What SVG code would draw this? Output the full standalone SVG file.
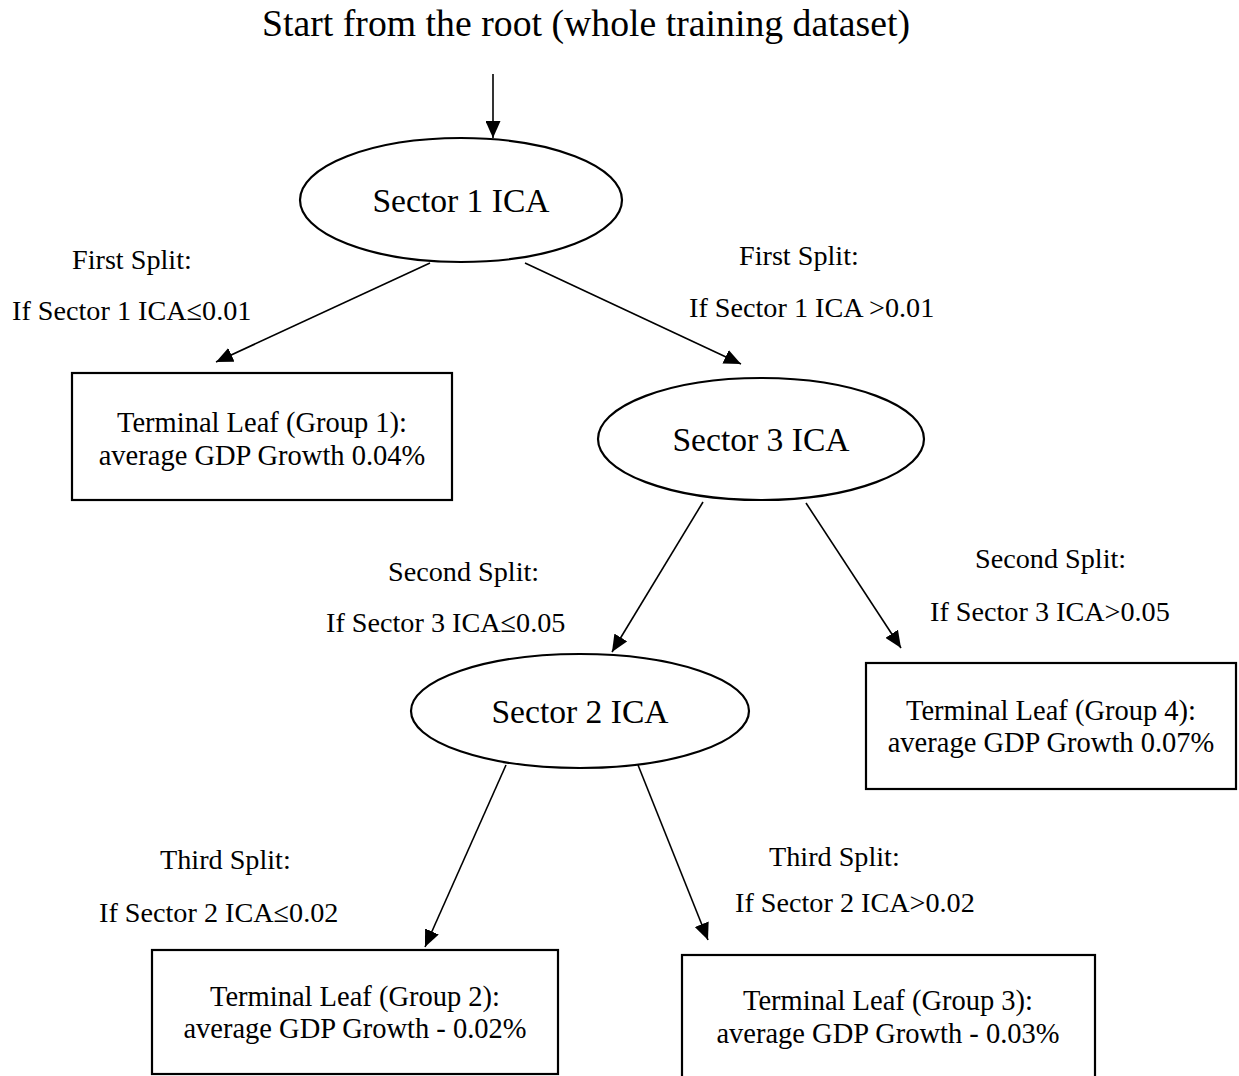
<svg xmlns="http://www.w3.org/2000/svg" width="1239" height="1076" viewBox="0 0 1239 1076">
<style>
text{font-family:"Liberation Serif","Times New Roman",serif;fill:#000}
.title{font-size:37.7px}
.node{font-size:33.6px;text-anchor:middle}
.leaf{font-size:28.5px;text-anchor:middle}
.lbl{font-size:28.2px}
.shape{fill:#fff;stroke:#000;stroke-width:2.2}
.edge{stroke:#000;stroke-width:1.6;fill:none;marker-end:url(#ah)}
</style>
<defs>
<marker id="ah" markerUnits="userSpaceOnUse" markerWidth="18" markerHeight="15" refX="17" refY="7.5" orient="auto">
<path d="M0,0 L17,7.5 L0,15 z" fill="#000"/>
</marker>
</defs>
<rect width="1239" height="1076" fill="#fff"/>
<text class="title" x="262" y="36" textLength="648">Start from the root (whole training dataset)</text>
<g id="connectors">
<line class="edge" x1="493" y1="74" x2="493" y2="138"/>
<line class="edge" x1="430" y1="263" x2="216" y2="362"/>
<line class="edge" x1="525" y1="263" x2="741" y2="364"/>
<line class="edge" x1="703" y1="502" x2="612" y2="652"/>
<line class="edge" x1="806" y1="503" x2="901" y2="648"/>
<line class="edge" x1="506" y1="765" x2="425" y2="947"/>
<line class="edge" x1="638" y1="765" x2="708" y2="940"/>
</g>
<g id="labels">
<text class="lbl" x="72" y="269">First Split:</text>
<text class="lbl" x="12" y="320">If Sector 1 ICA≤0.01</text>
<text class="lbl" x="739" y="265">First Split:</text>
<text class="lbl" x="689" y="317">If Sector 1 ICA &gt;0.01</text>
<text class="lbl" x="388" y="581">Second Split:</text>
<text class="lbl" x="326" y="632">If Sector 3 ICA≤0.05</text>
<text class="lbl" x="975" y="568">Second Split:</text>
<text class="lbl" x="930" y="621">If Sector 3 ICA&gt;0.05</text>
<text class="lbl" x="160" y="869">Third Split:</text>
<text class="lbl" x="99" y="922">If Sector 2 ICA≤0.02</text>
<text class="lbl" x="769" y="866">Third Split:</text>
<text class="lbl" x="735" y="912">If Sector 2 ICA&gt;0.02</text>
</g>
<g id="sector1">
<ellipse class="shape" cx="461" cy="200" rx="161" ry="62"/>
<text class="node" x="461" y="212">Sector 1 ICA</text>
</g>
<g id="group1">
<rect class="shape" x="72" y="373" width="380" height="127"/>
<text class="leaf" x="262" y="432">Terminal Leaf (Group 1):</text>
<text class="leaf" x="262" y="465">average GDP Growth 0.04%</text>
</g>
<g id="sector3">
<ellipse class="shape" cx="761" cy="439" rx="163" ry="61"/>
<text class="node" x="761" y="451">Sector 3 ICA</text>
</g>
<g id="sector2">
<ellipse class="shape" cx="580" cy="711" rx="169" ry="57"/>
<text class="node" x="580" y="723">Sector 2 ICA</text>
</g>
<g id="group4">
<rect class="shape" x="866" y="663" width="370" height="126"/>
<text class="leaf" x="1051" y="720">Terminal Leaf (Group 4):</text>
<text class="leaf" x="1051" y="752">average GDP Growth 0.07%</text>
</g>
<g id="group2">
<rect class="shape" x="152" y="950" width="406" height="124"/>
<text class="leaf" x="355" y="1006">Terminal Leaf (Group 2):</text>
<text class="leaf" x="355" y="1038">average GDP Growth - 0.02%</text>
</g>
<g id="group3">
<rect class="shape" x="682" y="955" width="413" height="130"/>
<text class="leaf" x="888" y="1010">Terminal Leaf (Group 3):</text>
<text class="leaf" x="888" y="1043">average GDP Growth - 0.03%</text>
</g>
</svg>
